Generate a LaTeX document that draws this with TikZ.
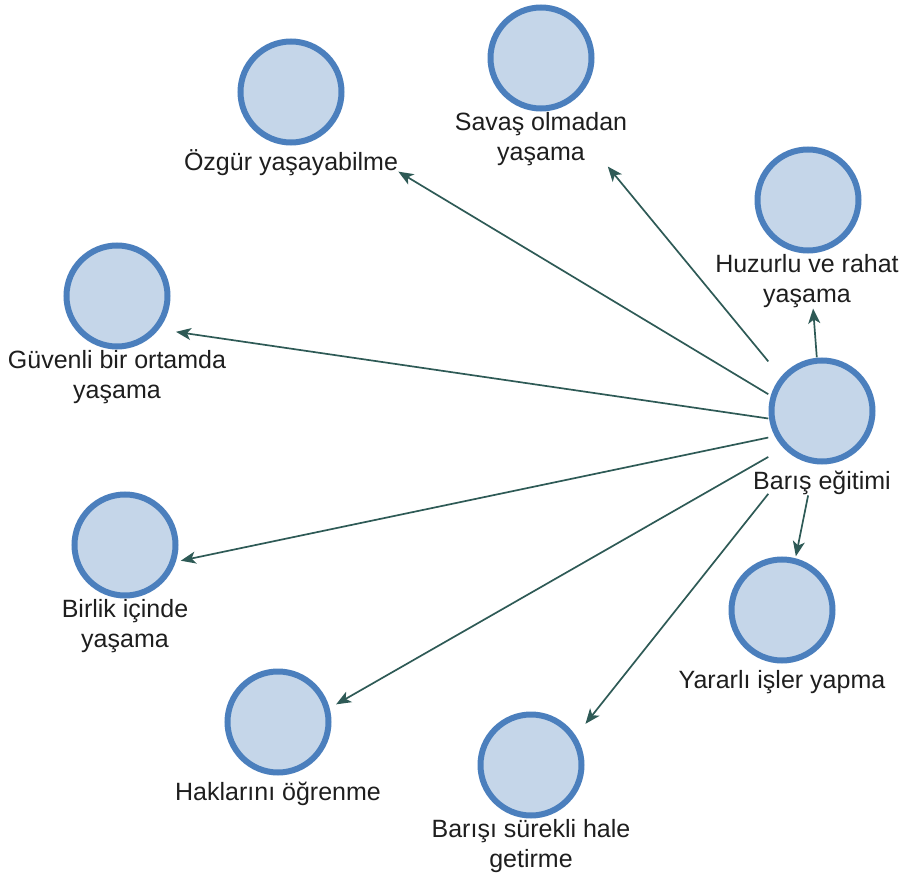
\documentclass[tikz,border=0pt]{standalone}
\usepackage{fontspec}
\setmainfont{Liberation Sans}
\usetikzlibrary{arrows.meta,fit}
\definecolor{cfill}{HTML}{C5D6E9}
\definecolor{cdraw}{HTML}{4B7FBD}
\definecolor{arr}{HTML}{2E5A56}
\definecolor{txt}{HTML}{1E1E1E}
\tikzset{
 bub/.style={circle,draw=cdraw,fill=cfill,line width=6pt,minimum size=101pt,inner sep=0pt},
 lab/.style={anchor=north,font=\fontsize{25}{30}\selectfont,align=center,inner sep=0pt,text=txt,yshift=-1pt,execute at begin node={\rule{0pt}{24pt}}},
 grp/.style={inner sep=0pt,draw=none,fill=none},
 con/.style={draw=arr,line width=1.7pt,-{Stealth[length=15pt,width=12pt,inset=4pt]}},
}
\begin{document}
\begin{tikzpicture}[x=1pt,y=-1pt]
\useasboundingbox (0,0) rectangle (903,880);
\node[bub] (c1) at (291,92) {};
\node[lab] (l1) at (c1.south) {Özgür yaşayabilme};
\node[bub] (c2) at (541,58) {};
\node[lab] (l2) at (c2.south) {Savaş olmadan\\yaşama};
\node[bub] (c3) at (808,200) {};
\node[lab] (l3) at ([xshift=-1pt]c3.south) {Huzurlu ve rahat\\yaşama};
\node[bub] (c4) at (117,296) {};
\node[lab] (l4) at (c4.south) {Güvenli bir ortamda\\yaşama};
\node[bub] (c5) at (822,411) {};
\node[lab] (l5) at (c5.south) {Barış eğitimi};
\node[bub] (c6) at (125,545) {};
\node[lab] (l6) at (c6.south) {Birlik içinde\\yaşama};
\node[bub] (c7) at (782,610) {};
\node[lab] (l7) at (c7.south) {Yararlı işler yapma};
\node[bub] (c8) at (278,722) {};
\node[lab] (l8) at (c8.south) {Haklarını öğrenme};
\node[bub] (c9) at (531,765) {};
\node[lab] (l9) at (c9.south) {Barışı sürekli hale\\getirme};
\node[grp,fit=(c1)(l1)] (g1) {};
\node[grp,fit=(c2)(l2)] (g2) {};
\node[grp,fit=(c3)(l3)] (g3) {};
\node[grp,fit=(c4)(l4)] (g4) {};
\node[grp,fit=(c5)(l5.south)] (g5) {};
\node[grp,fit=(c6)(l6)] (g6) {};
\node[grp,fit=(c7)(l7)] (g7) {};
\node[grp,fit=(c8)(l8)] (g8) {};
\node[grp,fit=(c9)(l9)] (g9) {};
\draw[con] (g5) -- (g1);
\draw[con] (g5) -- (g2);
\draw[con] (g5) -- (g3);
\draw[con,shorten >=-51pt] (g5) -- (g4);
\draw[con,shorten >=-8pt] (g5) -- (g6);
\draw[con] (g5) -- (g7);
\draw[con,shorten >=-52pt] (g5) -- (g8);
\draw[con,shorten >=-16pt] (g5) -- (g9);
\end{tikzpicture}
\end{document}
